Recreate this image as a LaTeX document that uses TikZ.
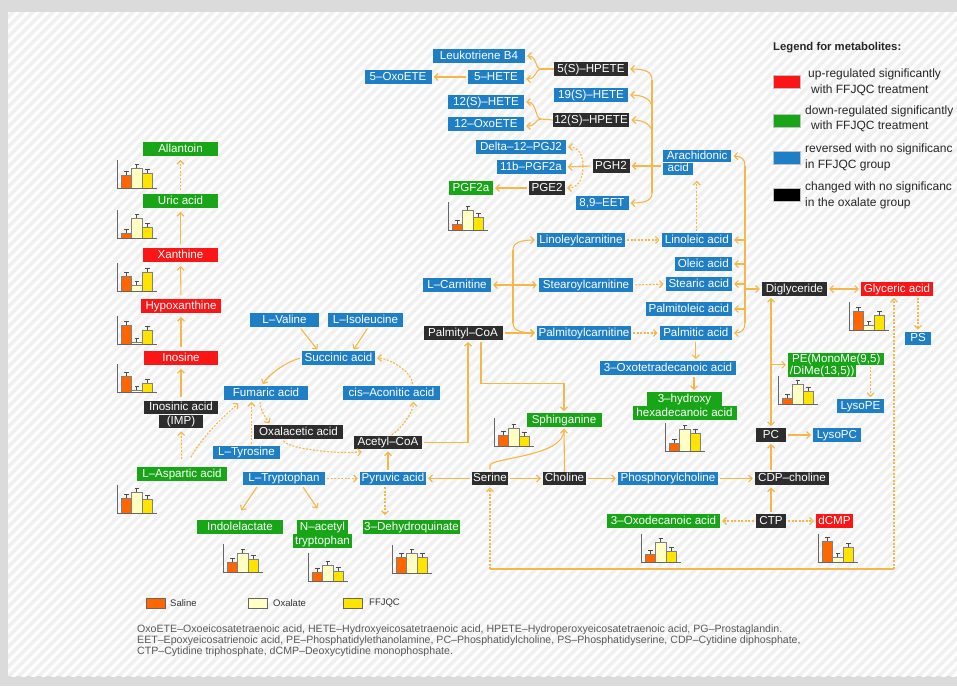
\documentclass[tikz,border=0pt]{standalone}
\usepackage{fontspec}
\setmainfont{Liberation Sans}
\usetikzlibrary{arrows.meta,calc}
\definecolor{mblue}{RGB}{30,126,198}
\definecolor{mgreen}{RGB}{24,165,24}
\definecolor{mred}{RGB}{250,22,22}
\definecolor{mblack}{RGB}{45,45,45}
\definecolor{morange}{RGB}{247,182,72}
\definecolor{bsal}{RGB}{255,102,0}
\definecolor{boxa}{RGB}{255,255,196}
\definecolor{bffj}{RGB}{255,228,0}
\newcommand{\bchart}[5]{%
\begin{scope}[shift={(#1,#2)}]
\filldraw[fill=bsal,draw=black!50,line width=0.3pt] (4,0) rectangle (14.5,-#3);
\filldraw[fill=boxa,draw=black!50,line width=0.3pt] (14.5,0) rectangle (25,-#4);
\filldraw[fill=bffj,draw=black!50,line width=0.3pt] (25,0) rectangle (35.5,-#5);
\draw[ebar] (9.25,-#3) -- (9.25,-#3-4) (7,-#3-4) -- (11.5,-#3-4);
\draw[ebar] (19.75,-#4) -- (19.75,-#4-4) (17.5,-#4-4) -- (22,-#4-4);
\draw[ebar] (30.25,-#5) -- (30.25,-#5-4) (28,-#5-4) -- (32.5,-#5-4);
\draw[axisc] (0,-28) -- (0,0) -- (40,0);
\end{scope}}
\tikzset{
 mbox/.style={inner xsep=1.5pt, inner ysep=0pt, text height=8.8pt, text depth=2.5pt, minimum height=13.5pt, font=\fontsize{11.6}{12}\selectfont, text=white},
 bl/.style={mbox, fill=mblue},
 gr/.style={mbox, fill=mgreen},
 rd/.style={mbox, fill=mred},
 bk/.style={mbox, fill=mblack},
 arr/.style={draw=morange, line width=1.1pt, -{Straight Barb[length=3.5pt,width=7pt]}, shorten >=2pt, shorten <=2pt},
 arr2/.style={arr, {Straight Barb[length=3.5pt,width=7pt]}-{Straight Barb[length=3.5pt,width=7pt]}},
 dsh/.style={dash pattern=on 2pt off 1.5pt},
 ln/.style={draw=morange, line width=1.1pt},
 ebar/.style={draw=black!70, line width=0.6pt},
 axisc/.style={draw=black!60, line width=0.9pt},
 lgtext/.style={anchor=west, inner sep=0pt, font=\fontsize{12}{13}\selectfont, text=black!85},
 fn/.style={anchor=west, inner sep=0pt, font=\fontsize{10.6}{11}\selectfont, text=black!65},
 lgbox/.style={draw=black!25, line width=0.4pt, minimum width=27pt, minimum height=13pt, inner sep=0pt},
 smbox/.style={draw=black!60, line width=0.4pt, minimum width=19pt, minimum height=10pt, inner sep=0pt},
 smtext/.style={anchor=west, inner sep=0pt, font=\fontsize{9.5}{10}\selectfont, text=black!80},
}
\begin{document}
\begin{tikzpicture}[x=1pt,y=-1pt]
\useasboundingbox (0,0) rectangle (957,686);
\clip (0,0) rectangle (957,686);
% background
\fill[black!14] (0,0) rectangle (957,686);
\fill[black!6] (8,12) rectangle (957,676);
\begin{scope}
\clip (8,12) rectangle (957,676);
\foreach \i in {0,10,...,1660} \draw[white, line width=3pt] (\i-686,686) -- (\i,0);
\end{scope}

% ---------- eicosanoid nodes ----------
\node[bl,minimum width=92pt] (lt) at (479,56) {Leukotriene B4};
\node[bl,minimum width=56pt] (h5) at (496,77) {5–HETE};
\node[bl,minimum width=67pt] (oxo5) at (398,77) {5–OxoETE};
\node[bk,minimum width=74pt] (hp5) at (591,69) {5(S)–HPETE};
\node[bl,minimum width=74pt] (h19) at (591,95) {19(S)–HETE};
\node[bl,minimum width=76pt] (h12) at (486,102) {12(S)–HETE};
\node[bk,minimum width=74pt] (hp12) at (591,120) {12(S)–HPETE};
\node[bl,minimum width=76pt] (oxo12) at (486,124) {12–OxoETE};
\node[bl,minimum width=90pt] (pgj2) at (521,147) {Delta–12–PGJ2};
\node[bl,minimum width=69pt] (pgf2b) at (531,167) {11b–PGF2a};
\node[bk,minimum width=37pt] (pgh2) at (611,166) {PGH2};
\node[bk,minimum width=36pt] (pge2) at (547,188) {PGE2};
\node[gr,minimum width=44pt] (pgf2a) at (471,188) {PGF2a};
\node[bl,minimum width=53pt] (eet) at (602,203) {8,9–EET};
\node[bl,minimum width=68pt,minimum height=12pt,anchor=north west] (ara) at (663,150) {Arachidonic};
\node[bl,minimum width=30pt,minimum height=12pt,anchor=north west] (ara2) at (ara.south west) {acid};

% ---------- fatty acid nodes ----------
\node[bl,minimum width=88pt] (linc) at (581,240) {Linoleylcarnitine};
\node[bl,minimum width=70pt,anchor=east] (lino) at (732,240) {Linoleic acid};
\node[bl,minimum width=57pt,anchor=east] (olei) at (732,264) {Oleic acid};
\node[bl,minimum width=68pt] (lcar) at (457,285) {L–Carnitine};
\node[bl,minimum width=94pt] (stc) at (586,285) {Stearoylcarnitine};
\node[bl,minimum width=66pt,anchor=east] (stea) at (732,284) {Stearic acid};
\node[bl,minimum width=86pt,anchor=east] (palo) at (732,309) {Palmitoleic acid};
\node[bk,minimum width=79pt] (pcoa) at (463,333) {Palmityl–CoA};
\node[bl,minimum width=94pt] (palc) at (584,333) {Palmitoylcarnitine};
\node[bl,minimum width=72pt,anchor=east] (palm) at (732,333) {Palmitic acid};
\node[bl,minimum width=136pt] (oxotd) at (668,368) {3–Oxotetradecanoic acid};
\node[gr,minimum width=75pt] (hhd1) at (684.5,399) {3–hydroxy};
\node[gr,minimum width=104pt,anchor=north] (hhd2) at (hhd1.south) {hexadecanoic acid};
\node[gr,minimum width=75pt] (sph) at (564,420) {Sphinganine};

% ---------- right nodes ----------
\node[bk,minimum width=65pt] (dig) at (794.5,289) {Diglyceride};
\node[rd,minimum width=72pt] (gly) at (897,289) {Glyceric acid};
\node[bl,minimum width=26pt] (ps) at (918,338.5) {PS};
\node[gr,minimum width=96pt,minimum height=11.5pt,anchor=north west] (pe1) at (788,353) {PE(MonoMe(9,5)};
\node[gr,minimum width=68pt,minimum height=12pt,anchor=north west] (pe2) at (pe1.south west) {/DiMe(13,5))};
\node[bl,minimum width=47pt] (lpe) at (860.5,406) {LysoPE};
\node[bk,minimum width=30pt] (pc) at (771,435) {PC};
\node[bl,minimum width=48pt] (lpc) at (837,435) {LysoPC};

% ---------- bottom row ----------
\node[bk,minimum width=36pt] (ser) at (490,478.5) {Serine};
\node[bk,minimum width=43pt] (cho) at (564.5,478.5) {Choline};
\node[bl,minimum width=100pt] (pcho) at (668,478.5) {Phosphorylcholine};
\node[bk,minimum width=74pt] (cdp) at (792,478.5) {CDP–choline};
\node[gr,minimum width=113pt] (oxod) at (663.5,521) {3–Oxodecanoic acid};
\node[bk,minimum width=30pt] (ctp) at (771,521) {CTP};
\node[rd,minimum width=37pt] (dcmp) at (834.5,521) {dCMP};

% ---------- middle / left ----------
\node[bl,minimum width=69pt] (val) at (284.5,320) {L–Valine};
\node[bl,minimum width=75pt] (ile) at (365.5,320) {L–Isoleucine};
\node[bl,minimum width=73pt] (suc) at (338.5,358) {Succinic acid};
\node[bl,minimum width=84pt] (fum) at (266,393) {Fumaric acid};
\node[bl,minimum width=97pt] (cis) at (391.5,393) {cis–Aconitic acid};
\node[bk,minimum width=89pt] (oxa) at (298.5,432) {Oxalacetic acid};
\node[bk,minimum width=68pt] (acoa) at (388,442.5) {Acetyl–CoA};
\node[bl,minimum width=67pt] (tyr) at (246.5,452.5) {L–Tyrosine};
\node[bl,minimum width=82pt] (trp) at (284,478.5) {L–Tryptophan};
\node[bl,minimum width=66pt] (pyr) at (393,478.5) {Pyruvic acid};
\node[gr,minimum width=90pt] (asp) at (182,474) {L–Aspartic acid};
\node[bk,minimum width=74pt] (imp1) at (181,407.5) {Inosinic acid};
\node[bk,minimum width=44pt,anchor=north] (imp2) at (imp1.south) {(IMP)};
\node[rd,minimum width=74pt] (ino) at (181,358) {Inosine};
\node[rd,minimum width=80pt] (hyp) at (181,306) {Hypoxanthine};
\node[rd,minimum width=75pt] (xan) at (180.5,255) {Xanthine};
\node[gr,minimum width=75pt] (uric) at (180.5,201) {Uric acid};
\node[gr,minimum width=75pt] (allan) at (180.5,149) {Allantoin};
\node[gr,minimum width=86pt] (ind) at (240,527) {Indolelactate};
\node[gr,minimum width=51pt] (nac1) at (322.5,527) {N–acetyl};
\node[gr,minimum width=59pt,anchor=north] (nac2) at (nac1.south) {tryptophan};
\node[gr,minimum width=97pt] (dhq) at (411.5,527) {3–Dehydroquinate};

% ---------- eicosanoid connectors ----------
\coordinate (b5) at (541,69);
\draw[ln] (hp5.west) -- (b5);
\draw[arr,shorten <=0pt] (b5) .. controls (535,69) and (537,56) .. (lt.east);
\draw[arr,shorten <=0pt] (b5) .. controls (535,69) and (537,79) .. ($(h5.east)+(0,2)$);
\draw[arr] (h5.west) -- (oxo5.east);
\coordinate (b12) at (541,119);
\draw[ln] (hp12.west) -- (b12);
\draw[arr,shorten <=0pt] (b12) .. controls (535,119) and (537,102) .. (h12.east);
\draw[arr,shorten <=0pt] (b12) .. controls (535,119) and (537,126) .. ($(oxo12.east)+(0,2)$);
\coordinate (v1) at (652,80);
\coordinate (v2) at (652,193);
\coordinate (vh19) at (652,108);
\coordinate (vh12) at (652,133);
\draw[ln] (v1) -- (v2);
\draw[arr,shorten <=0pt] (v1) .. controls (652,72) and (646,69) .. (hp5.east);
\draw[arr,shorten <=0pt] (v2) .. controls (652,200) and (646,203) .. (eet.east);
\draw[arr,shorten <=0pt] (vh19) .. controls (652,100) and (644,95) .. (h19.east);
\draw[arr,shorten <=0pt] (vh12) .. controls (652,125) and (644,120) .. (hp12.east);
\draw[arr] (ara2.west |- pgh2) -- (pgh2.east);
\draw[arr] (pgh2.west) -- (pgf2b.east);
\coordinate (bp) at (583,166);
\draw[arr,dsh,shorten <=0pt] (bp) .. controls (583,153) and (577,147) .. (pgj2.east);
\draw[arr,dsh,shorten <=0pt] (bp) .. controls (583,181) and (577,188) .. (pge2.east);
\draw[arr] (pge2.west) -- (pgf2a.east);

% ---------- fatty acid connectors ----------
\coordinate (cb1) at (513,250);
\coordinate (cb2) at (513,323);
\draw[ln] (cb1) -- (cb2);
\draw[arr,shorten <=0pt] (cb1) .. controls (513,243) and (520,240) .. (linc.west);
\draw[arr,shorten <=0pt] (cb2) .. controls (513,330) and (520,333) .. (palc.west);
\draw[arr2] (lcar.east) -- (stc.west);
\draw[arr] (pcoa.east) -- (palc.west);
\draw[arr,dsh] (linc.east) -- (lino.west);
\draw[arr,dsh] (stc.east) -- (stea.west);
\draw[arr,dsh] (palc.east) -- (palm.west);
\draw[arr,dsh,shorten >=6pt] (lino.north) -- (lino.north |- ara2.south);
\coordinate (rb1) at (745,166);
\coordinate (rb2) at (745,323);
\coordinate (rbx) at (745,0);
\draw[ln] (rb1) -- (rb2);
\draw[arr,shorten <=0pt] (rb1) .. controls (745,159) and (741,156) .. (ara.east);
\draw[arr,shorten <=0pt] (rb2) .. controls (745,330) and (741,333) .. (palm.east);
\draw[arr,shorten <=0pt] (rbx |- lino) -- (lino.east);
\draw[arr,shorten <=0pt] (rbx |- olei) -- (olei.east);
\draw[arr,shorten <=0pt] (rbx |- stea) -- (stea.east);
\draw[arr,shorten <=0pt] (rbx |- palo) -- (palo.east);
\draw[arr,shorten <=0pt] (rbx |- dig) -- (dig.west);
\draw[arr] (palm.south) -- (palm.south |- oxotd.north);
\coordinate (ox2) at ($(oxotd.south)+(26,0)$);
\draw[arr] (ox2) -- (ox2 |- hhd1.north);
\coordinate (pc5) at ($(pcoa.south)+(5,0)$);
\draw[arr] (acoa.east) -| (pc5);
\coordinate (pc18) at ($(pcoa.south)+(18,0)$);
\draw[arr] (pc18) |- ($(sph.north)+(0,-30)$) -- (sph.north);
\draw[arr] (ser.north) -- ($(ser.north)+(0,-6)$) .. controls ($(ser.north)+(0,-14)$) and ($(sph.south)+(0,30)$) .. (sph.south);
\draw[ln,shorten >=2pt] (cho.north) -- (sph.south);

% ---------- right connectors ----------
\draw[arr2] (dig.east) -- (gly.west);
\draw[arr,dsh] (ps.north |- gly.south) -- (ps.north);
\draw[arr2] (pc.north |- dig.south) -- (pc.north);
\coordinate (pebr) at (pc.north |- pe1.south);
\draw[arr,shorten <=0pt] (pebr) -- (pebr -| pe1.west);
\coordinate (pex) at ($(lpe.north)+(10,0)$);
\draw[arr,dsh] (pex |- pe1.south) -- (pex);
\draw[arr] (pc.east) -- (lpc.west);
\draw[arr] (pc.south |- cdp.north) -- (pc.south);

% ---------- bottom connectors ----------
\draw[arr] (ser.west) -- (pyr.east);
\draw[arr] (ser.east) -- (cho.west);
\draw[arr] (cho.east) -- (pcho.west);
\draw[arr] (pcho.east) -- (cdp.west);
\draw[arr] (ctp.north) -- (ctp.north |- cdp.south);
\draw[arr,dsh] (ctp.west) -- (oxod.east);
\draw[arr,dsh] (ctp.east) -- (dcmp.west);
\coordinate (lpy) at (0,569);
\coordinate (gx) at ($(gly.south)+(-3,0)$);
\draw[arr,dsh,shorten <=0pt] (ser.south |- lpy) -- (ser.south);
\draw[ln,line width=1.4pt] (ser.south |- lpy) -- (gx |- lpy);
\draw[arr,dsh,shorten <=0pt] (gx |- lpy) -- (gx);

% ---------- middle connectors ----------
\draw[arr] ($(val.south)+(15,0)$) -- ($(suc.north)+(-20,0)$);
\draw[arr] ($(ile.south)+(3,0)$) -- ($(suc.north)+(14,0)$);
\draw[arr] (suc.west) .. controls +(-15,3) and +(5,-10) .. ($(fum.north)+(-4,0)$);
\draw[arr,dsh] ($(cis.north)+(21,0)$) .. controls +(0,-14) and +(14,0) .. (suc.east);
\draw[arr,dsh] ($(fum.south)+(-6,0)$) .. controls +(0,10) and +(-4,-6) .. ($(oxa.north)+(-28,0)$);
\draw[arr,dsh] ($(oxa.south)+(-16,0)$) .. controls +(5,10) and +(-25,3) .. ($(acoa.south west)+(10,2)$);
\draw[arr,dsh] ($(acoa.north)+(2,0)$) .. controls +(10,-5) and +(0,12) .. ($(cis.south)+(22,0)$);
\draw[arr] (acoa.south |- pyr.north) -- (acoa.south);
\draw[arr,dsh] (trp.east) -- (pyr.west);
\draw[arr] ($(trp.south)+(-26,0)$) -- ($(ind.north)+(0,-8)$);
\draw[arr] ($(trp.south)+(18,0)$) -- ($(nac1.north)+(-4,-10)$);
\coordinate (pyx) at ($(pyr.south)+(-8,0)$);
\draw[arr,dsh,shorten >=5pt] (pyx) -- (pyx |- dhq.north);
\draw[arr,dsh] ($(asp.north)+(8,-8)$) .. controls +(12,-22) and +(-20,18) .. ($(fum.south west)+(16,2)$);
\coordinate (tyx) at ($(tyr.north)+(5,0)$);
\draw[arr,dsh] (tyx) -- (tyx |- fum.south);
\draw[arr,dsh,shorten <=8pt,shorten >=3pt] (asp.north) -- (imp2.south);
\draw[arr,shorten <=4pt,shorten >=4pt] (imp1.north) -- (ino.south);
\draw[arr,shorten <=4pt,shorten >=4pt] (ino.north) -- (hyp.south);
\draw[arr,shorten <=4pt,shorten >=4pt] (hyp.north) -- (xan.south);
\draw[arr,shorten <=4pt,shorten >=4pt] (xan.north) -- (uric.south);
\draw[arr,dsh,shorten <=4pt,shorten >=4pt] (uric.north) -- (allan.south);

% ---------- bar charts ----------
\bchart{117}{188}{13}{20}{15}
\bchart{117}{238}{5}{20}{11}
\bchart{117}{291}{15}{6}{19}
\bchart{117}{344}{19}{2}{14}
\bchart{117}{392}{16}{2}{9}
\bchart{117}{513}{15}{21}{14}
\bchart{448}{230}{6}{20}{13}
\bchart{494}{446}{11}{18}{10}
\bchart{665}{451}{8}{22}{18}
\bchart{849}{330}{19}{5}{15}
\bchart{778}{404}{6}{20}{13}
\bchart{223}{572}{10}{19}{13}
\bchart{308}{581}{9}{16}{10}
\bchart{392}{573}{16}{20}{16}
\bchart{641}{562}{8}{20}{11}
\bchart{818}{562}{21}{5}{15}

% ---------- legend ----------
\node[anchor=west,inner sep=0pt,font=\bfseries\fontsize{11.3}{12}\selectfont,text=black!85] (lgt) at (773,48) {Legend for metabolites:};
\node[lgbox,fill=mred] (lgr) at (786.5,81.5) {};
\node[lgbox,fill=mgreen] (lgg) at (786.5,120.5) {};
\node[lgbox,fill=mblue] (lgb) at (786.5,158) {};
\node[lgbox,fill=black] (lgk) at (786.5,194.5) {};
\node[lgtext] (t1) at (808,74) {up-regulated significantly};
\node[lgtext] (t2) at (811,90) {with FFJQC treatment};
\node[lgtext] (t3) at (805,111) {down-regulated significantly};
\node[lgtext] (t4) at (811,126) {with FFJQC treatment};
\node[lgtext] (t5) at (805,149) {reversed with no significanc};
\node[lgtext] (t6) at (805,165) {in FFJQC group};
\node[lgtext] (t7) at (805,187) {changed with no significanc};
\node[lgtext] (t8) at (805,203) {in the oxalate group};

\node[smbox,fill=bsal] (ls) at (155.5,603.5) {};
\node[smtext] (lst) at (170,603.5) {Saline};
\node[smbox,fill=boxa] (lo) at (258,603.5) {};
\node[smtext] (lot) at (273,603.5) {Oxalate};
\node[smbox,fill=bffj] (lf) at (353,603.5) {};
\node[smtext] (lft) at (369,603.5) {FFJQC};

\node[fn] (f1) at (137,630) {OxoETE–Oxoeicosatetraenoic acid, HETE–Hydroxyeicosatetraenoic acid, HPETE–Hydroperoxyeicosatetraenoic acid, PG–Prostaglandin.};
\node[fn] (f2) at (137,641) {EET–Epoxyeicosatrienoic acid, PE–Phosphatidylethanolamine, PC–Phosphatidylcholine, PS–Phosphatidyserine, CDP–Cytidine diphosphate,};
\node[fn] (f3) at (137,652) {CTP–Cytidine triphosphate, dCMP–Deoxycytidine monophosphate.};
\end{tikzpicture}
\end{document}
